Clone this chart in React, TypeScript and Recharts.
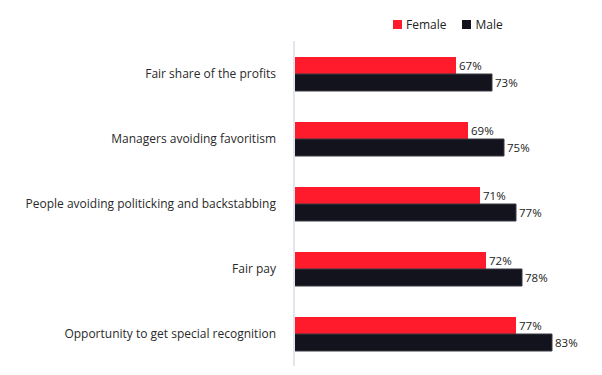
import React from "react";
import { BarChart, Bar, XAxis, YAxis, Legend, LabelList } from "recharts";

const categories = [
  "Fair share of the profits",
  "Managers avoiding favoritism",
  "People avoiding politicking and backstabbing",
  "Fair pay",
  "Opportunity to get special recognition",
];
const female = [67, 69, 71, 72, 77];
const male = [73, 75, 77, 78, 83];

const data = categories.map((c, i) => ({ name: c, Female: female[i], Male: male[i] }));

const RED = "#FF1A2C";
const BLACK = "#12131C";
const FONT = "'Open Sans', 'Noto Sans', sans-serif";

const renderLegend = () => (
  <div style={{ display: "flex", alignItems: "center", fontFamily: FONT, fontSize: 12, color: "#222" }}>
    <span style={{ display: "inline-block", width: 9, height: 9, background: RED, marginRight: 4 }} />
    <span style={{ marginRight: 16 }}>Female</span>
    <span style={{ display: "inline-block", width: 9, height: 9, background: BLACK, marginRight: 4 }} />
    <span>Male</span>
  </div>
);

export default function App() {
  return (
    <div style={{ position: "absolute", left: 0, top: 0, background: "#fff" }}>
      <BarChart
        width={602}
        height={375}
        data={data}
        layout="vertical"
        margin={{ top: 41, right: 8, bottom: 9, left: 0 }}
        barGap={0}
        barSize={17}
      >
        <XAxis type="number" domain={[40, 90]} hide />
        <YAxis
          type="category"
          dataKey="name"
          width={294}
          axisLine={{ stroke: "#E3E5EC", strokeWidth: 2 }}
          tickLine={false}
          tickMargin={12}
          tick={{ fontSize: 12, fill: "#2a2a2a", fontFamily: FONT }}
          interval={0}
        />
        <Legend
          verticalAlign="middle"
          align="center"
          content={renderLegend}
          wrapperStyle={{ top: 16, left: 393, width: "auto" }}
        />
        <Bar dataKey="Female" fill={RED} isAnimationActive={false}>
          <LabelList
            dataKey="Female"
            position="right"
            offset={3}
            formatter={(v: number) => `${v}%`}
            style={{ fontSize: 11.5, fill: "#222", fontFamily: FONT }}
          />
        </Bar>
        <Bar dataKey="Male" fill={BLACK} stroke="#3a3b45" strokeWidth={1} isAnimationActive={false}>
          <LabelList
            dataKey="Male"
            position="right"
            offset={3}
            formatter={(v: number) => `${v}%`}
            style={{ fontSize: 11.5, fill: "#222", fontFamily: FONT }}
          />
        </Bar>
      </BarChart>
    </div>
  );
}
